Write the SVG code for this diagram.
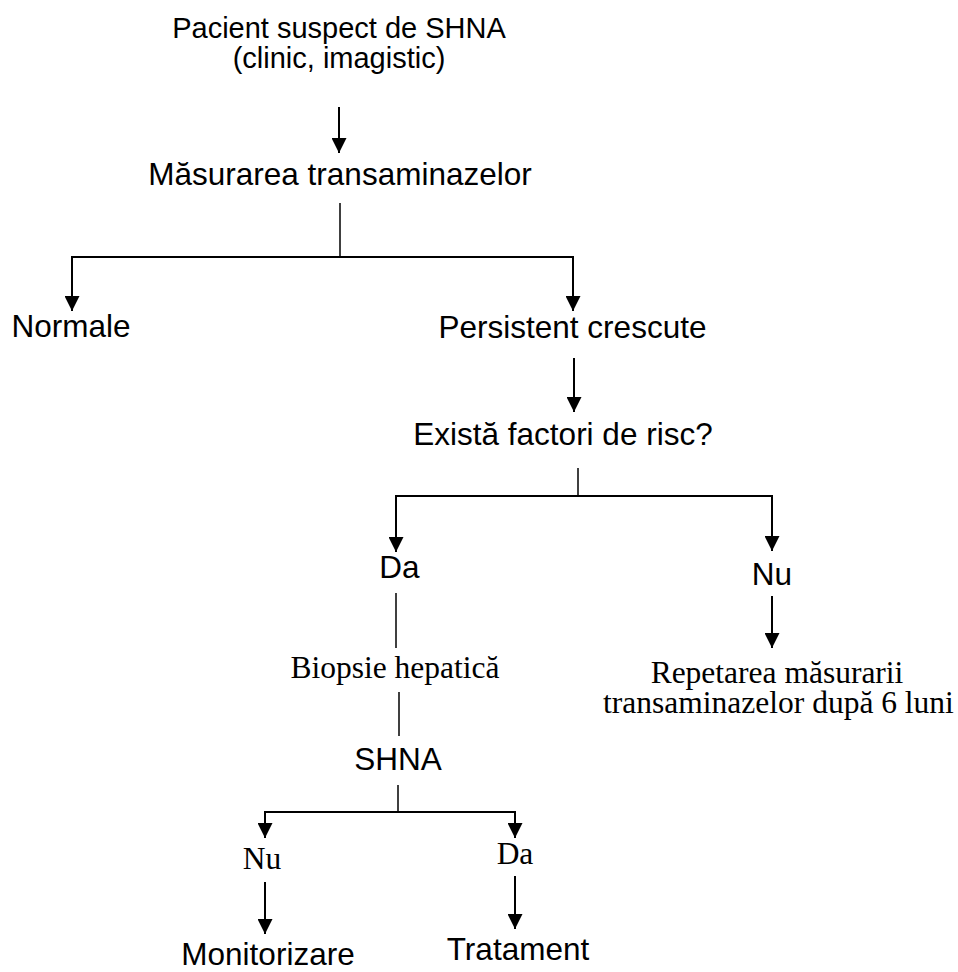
<svg xmlns="http://www.w3.org/2000/svg" width="958" height="972" viewBox="0 0 958 972">
<style>
.s{font-family:"Liberation Sans",Arial,sans-serif;fill:#000;text-anchor:middle}
.t{font-family:"Liberation Serif","Times New Roman",serif;fill:#000;text-anchor:middle;font-size:31.5px}
.a{stroke:#000;stroke-width:2;fill:none;marker-end:url(#ah)}
.l{stroke:#000;stroke-width:1.5;fill:none}
.h{stroke:#000;stroke-width:2;fill:none}
</style>
<defs>
<marker id="ah" markerUnits="userSpaceOnUse" viewBox="0 0 15 15" refX="15" refY="7.5" markerWidth="15" markerHeight="15" orient="auto">
<path d="M0,0 L15,7.5 L0,15 z" fill="#000"/>
</marker>
</defs>
<rect width="958" height="972" fill="#fff"/>
<g id="connectors">
<line class="a" x1="339" y1="107" x2="339" y2="153"/>
<line class="l" x1="340" y1="203" x2="340" y2="257"/>
<polyline class="h" points="72,300 72,257 573,257 573,300"/>
<line class="a" x1="72" y1="290" x2="72" y2="311"/>
<line class="a" x1="573" y1="290" x2="573" y2="311"/>
<line class="a" x1="574" y1="358" x2="574" y2="412"/>
<line class="l" x1="578" y1="468" x2="578" y2="496"/>
<polyline class="h" points="396,540 396,496 772,496 772,540"/>
<line class="a" x1="396" y1="530" x2="396" y2="552"/>
<line class="a" x1="772" y1="530" x2="772" y2="551"/>
<line class="l" x1="396" y1="593" x2="396" y2="648"/>
<line class="a" x1="772" y1="596" x2="772" y2="648"/>
<line class="l" x1="399" y1="692" x2="399" y2="736"/>
<line class="l" x1="398" y1="785" x2="398" y2="812"/>
<polyline class="h" points="265,825 265,812 515,812 515,825"/>
<line class="a" x1="265" y1="820" x2="265" y2="838"/>
<line class="a" x1="515" y1="820" x2="515" y2="838"/>
<line class="a" x1="265" y1="882" x2="265" y2="934"/>
<line class="a" x1="515" y1="876" x2="515" y2="929"/>
</g>
<g id="n-pacient"><text class="s" font-size="29" x="339" y="38">Pacient suspect de SHNA</text><text class="s" font-size="29" x="339" y="68">(clinic, imagistic)</text></g>
<g id="n-masurarea"><text class="s" font-size="31.5" x="340" y="185">Măsurarea transaminazelor</text></g>
<g id="n-normale"><text class="s" font-size="31.5" x="71" y="337">Normale</text></g>
<g id="n-persistent"><text class="s" font-size="31.5" x="572.5" y="338">Persistent crescute</text></g>
<g id="n-exista"><text class="s" font-size="31.5" x="563" y="445">Există factori de risc?</text></g>
<g id="n-da1"><text class="s" font-size="31.5" x="399.5" y="578">Da</text></g>
<g id="n-nu1"><text class="s" font-size="31.5" x="772" y="585">Nu</text></g>
<g id="n-biopsie"><text class="t" x="395" y="678">Biopsie hepatică</text></g>
<g id="n-repetarea"><text class="t" x="777" y="683">Repetarea măsurarii</text><text class="t" x="778.5" y="713">transaminazelor după 6 luni</text></g>
<g id="n-shna"><text class="s" font-size="31.5" x="398" y="770">SHNA</text></g>
<g id="n-nu2"><text class="t" x="262" y="869">Nu</text></g>
<g id="n-da2"><text class="t" x="515" y="864">Da</text></g>
<g id="n-monitorizare"><text class="s" font-size="31.5" x="268" y="965">Monitorizare</text></g>
<g id="n-tratament"><text class="s" font-size="31.5" x="518" y="960">Tratament</text></g>
</svg>
